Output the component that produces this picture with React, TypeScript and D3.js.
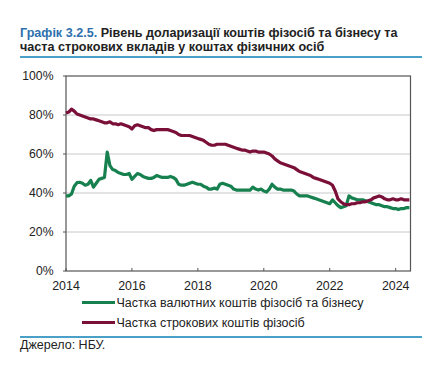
import React from "react";
import * as d3 from "d3";

const startYear = 2014;
const fxShare: number[] = [
  // 2014
  38.5, 38.5, 39.5, 43.5, 45.3, 45.5, 45, 44, 44.5, 46.5, 43, 45,
  // 2015
  47, 47.5, 48, 61, 54, 52, 51.5, 50.5, 50, 49.5, 49.5, 50,
  // 2016
  47, 48.5, 50, 49.5, 48.5, 48, 47.5, 47.5, 48, 49, 48.5, 48,
  // 2017
  48, 48, 48.5, 48, 47, 44.5, 44, 44, 44.5, 45, 45.5, 45,
  // 2018
  44.5, 44.5, 43.5, 43, 42, 42, 42.5, 42, 44.5, 45, 44.5, 44,
  // 2019
  43.5, 42, 41.5, 41.5, 41.5, 41.5, 41.5, 41.5, 43, 42, 41.5, 42,
  // 2020
  41, 40.5, 42, 44.5, 43, 42, 42, 41.5, 41.5, 41.5, 41.5, 41,
  // 2021
  39.5, 38.5, 38.5, 38.5, 38.5, 38, 37.5, 37, 36.5, 36, 35.5, 35,
  // 2022
  34.5, 36.5, 35, 33.5, 32.5, 33, 33.5, 38.5, 37.5, 37, 36.5, 36.5,
  // 2023
  36.5, 36, 35.5, 35, 34.5, 34, 34, 33.5, 33, 33, 32.5, 32,
  // 2024
  32, 31.5, 32, 32, 32.5, 32.5,
];
const termShare: number[] = [
  // 2014
  81, 81.5, 83, 82, 80.5, 80, 79.5, 79, 78.5, 78, 78, 77.5,
  // 2015
  77, 76.5, 76, 76, 76.5, 75.5, 75.5, 75, 75.5, 75, 74.5, 74,
  // 2016
  72.8, 74.5, 75, 74.5, 74, 73.5, 73.5, 72.5, 72, 72.5, 72.5, 72.5,
  // 2017
  72.5, 72.5, 72, 71.5, 71, 70, 69.5, 69.5, 69.5, 69.5, 69, 68.5,
  // 2018
  68, 67.5, 67, 66, 65, 64.5, 64.5, 65, 65, 65, 65, 64.5,
  // 2019
  64, 63.5, 63, 62.5, 62, 62, 61.5, 61, 61.5, 61.5, 61, 61,
  // 2020
  61, 60.5, 60, 59, 57.5, 56.5, 55.5, 55, 54.5, 54, 53.5, 53,
  // 2021
  52, 51, 50.5, 50, 49.5, 49, 48, 47.5, 47, 46.5, 46, 45.5,
  // 2022
  45, 44, 41, 37, 35.5, 34.5, 34, 34, 34.5, 34.5, 35, 35,
  // 2023
  35.5, 35.5, 36, 36.5, 37.5, 38, 38.5, 38, 37, 36.5, 36.5, 37,
  // 2024
  36.5, 36.5, 37, 36.5, 36.5, 36.5,
];
const xTicks = [2014, 2016, 2018, 2020, 2022, 2024];
const yTicks = [0, 20, 40, 60, 80, 100];
const titleLabel = "Графік 3.2.5.";
const titleLine1 = "Рівень доларизації коштів фізосіб та бізнесу та";
const titleLine2 = "часта строкових вкладів у коштах фізичних осіб";
const seriesNames = [
  "Частка валютних коштів фізосіб та бізнесу",
  "Частка строкових коштів фізосіб",
];
const sourceText = "Джерело: НБУ.";

const W = 446;
const H = 368;
const FONT = "Arial, 'Liberation Sans', sans-serif";
const GREEN = "#17804f";
const MAROON = "#7a0f38";

export default function App() {
  const x = d3.scaleLinear().domain([2014, 2024.45]).range([66, 410.5]);
  const y = d3.scaleLinear().domain([0, 100]).range([271, 76]);
  const line = d3
    .line<number>()
    .x((_, i) => x(startYear + i / 12))
    .y((d) => y(d))
    .curve(d3.curveLinear);
  const [x0, x1] = x.range();
  const [y0, y1] = y.range();

  return (
    <svg
      width={W}
      height={H}
      style={{ position: "absolute", left: 0, top: 0, background: "#fff" }}
      fontFamily={FONT}
    >
      <rect x={0} y={0} width={W} height={H} fill="#fff" />
      <text x={20} y={37} fontSize={12.6} fontWeight="bold" fill="#222">
        <tspan fill="#2d70ad">{titleLabel}</tspan>
        <tspan> {titleLine1}</tspan>
      </text>
      <text x={20} y={51} fontSize={12.6} fontWeight="bold" fill="#222">
        {titleLine2}
      </text>
      <line x1={20} x2={422} y1={57} y2={57} stroke="#4aa0c6" strokeWidth={2.2} />

      {yTicks
        .filter((t) => t > 0 && t < 100)
        .map((t) => (
          <line key={t} x1={x0} x2={x1} y1={y(t)} y2={y(t)} stroke="#c8c8c8" strokeWidth={1} />
        ))}
      <rect
        x={x0}
        y={y1}
        width={x1 - x0}
        height={y0 - y1}
        fill="none"
        stroke="#555"
        strokeWidth={1.2}
      />
      {yTicks.map((t) => (
        <g key={t}>
          <line x1={x0 - 3} x2={x0} y1={y(t)} y2={y(t)} stroke="#555" />
          <text
            x={53.5}
            y={y(t)}
            dy="0.35em"
            textAnchor="end"
            fontSize={12.2}
            fill="#222"
          >
            {t}%
          </text>
        </g>
      ))}
      {xTicks.map((t) => (
        <g key={t}>
          <line x1={x(t)} x2={x(t)} y1={y0} y2={y0 - 3} stroke="#555" />
          <text x={x(t)} y={289.5} textAnchor="middle" fontSize={12.4} fill="#222">
            {t}
          </text>
        </g>
      ))}

      <path d={line(fxShare) || ""} fill="none" stroke={GREEN} strokeWidth={3.2} strokeLinejoin="round" />
      <path d={line(termShare) || ""} fill="none" stroke={MAROON} strokeWidth={3.2} strokeLinejoin="round" />

      {[GREEN, MAROON].map((c, i) => (
        <g key={c}>
          <line x1={82} x2={115} y1={302.5 + i * 20} y2={302.5 + i * 20} stroke={c} strokeWidth={3} />
          <text x={116.5} y={302.5 + i * 20} dy="0.35em" fontSize={12.5} fill="#222">
            {seriesNames[i]}
          </text>
        </g>
      ))}

      <line x1={20} x2={422} y1={337} y2={337} stroke="#4aa0c6" strokeWidth={2.2} />
      <text x={20} y={349} fontSize={12.5} fill="#222">
        {sourceText}
      </text>
    </svg>
  );
}
